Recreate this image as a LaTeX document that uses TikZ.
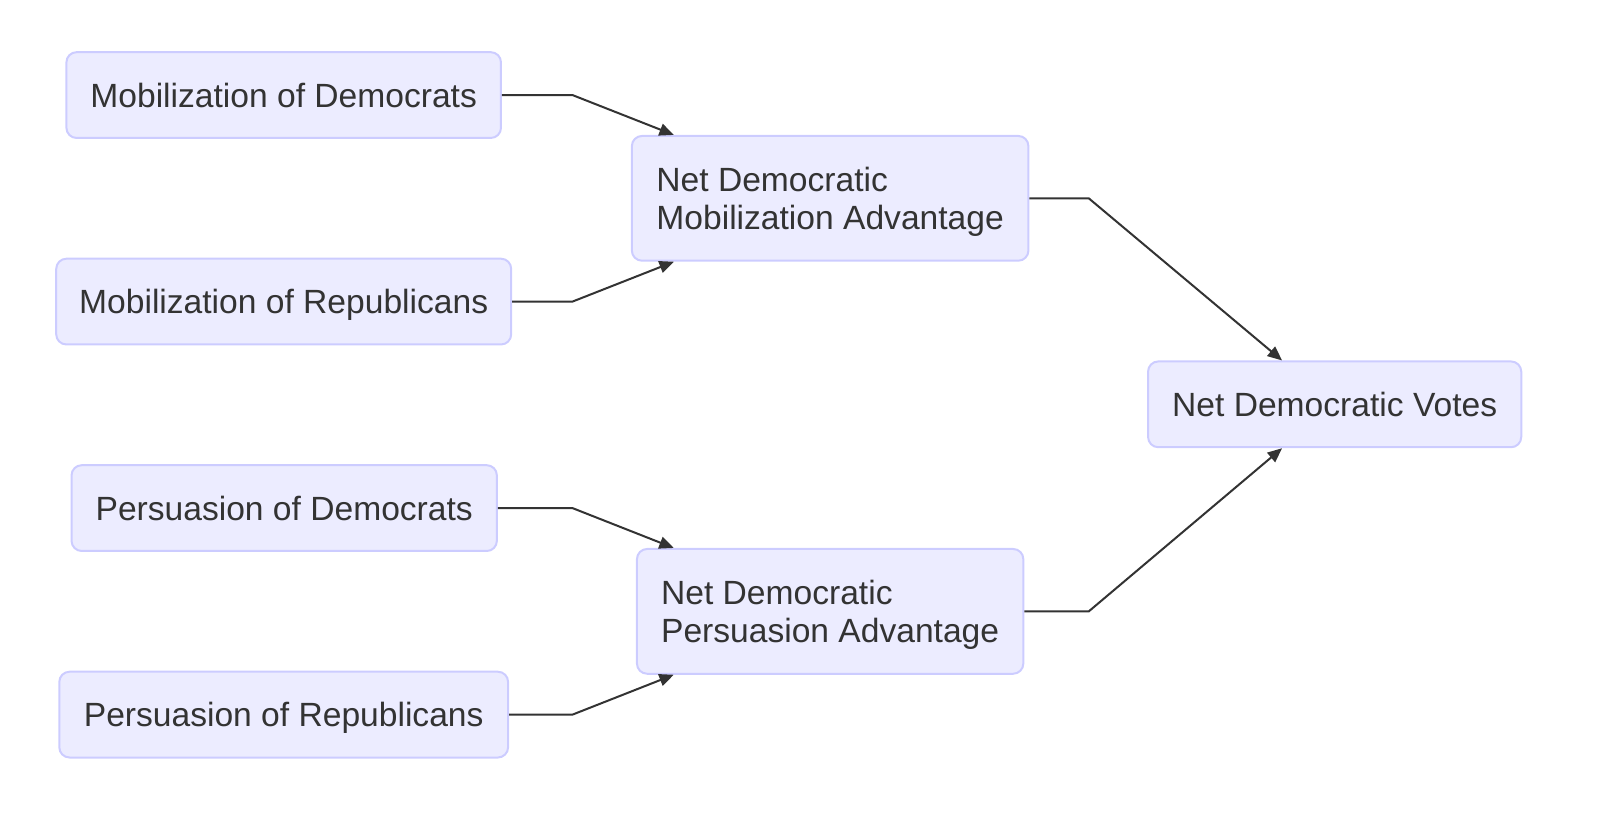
\documentclass[tikz,border=0pt]{standalone}
\usepackage{fontspec}
\setmainfont{Liberation Sans}
\usetikzlibrary{arrows.meta}
\definecolor{boxfill}{HTML}{ECECFF}
\definecolor{boxline}{HTML}{CCCCFF}
\definecolor{ink}{HTML}{333333}

\begin{document}
\begin{tikzpicture}
		[x=0.5112pt, y=-0.5112pt,
		every node/.style={font=\fontsize{16.8}{19}\selectfont, text=ink},
		factor/.style={draw=boxline, fill=boxfill, line width=1pt, rounded corners=5.1pt, minimum height=42.9pt, inner xsep=0pt, text depth=0pt},
		netbox/.style={factor, minimum height=62.4pt, align=left},
		link/.style={draw=ink, line width=1pt, -{Triangle[length=7.2pt,width=6.1pt]}}
		]
		\useasboundingbox (0,0) rectangle (1567,814);
		\begin{scope}
			\node[factor, minimum width=217.3pt] (MobD) at (277.5,93) {Mobilization of Democrats};
			\node[factor, minimum width=227.5pt] (MobR) at (277.5,295) {Mobilization of Republicans};
			\node[factor, minimum width=212.7pt] (PerD) at (278,497) {Persuasion of Democrats};
			\node[factor, minimum width=224.4pt] (PerR) at (277.5,699) {Persuasion of Republicans};
			\node[netbox, minimum width=198.3pt] (NetMob) at (812,194) {Net Democratic\\Mobilization Advantage};
			\node[netbox, minimum width=193.2pt] (NetPer) at (812,598) {Net Democratic\\Persuasion Advantage};
			\node[factor, minimum width=186.6pt] (NetVotes) at (1305.5,395.5) {Net Democratic Votes};
		\end{scope}
		\coordinate (bendL) at (560,0);
		\coordinate (bendR) at (1065,0);
		\draw[link] (MobD.east) -- (MobD.east -| bendL) -- ([xshift=21.5pt]NetMob.north west);
		\draw[link] (MobR.east) -- (MobR.east -| bendL) -- ([xshift=21.5pt]NetMob.south west);
		\draw[link] (PerD.east) -- (PerD.east -| bendL) -- ([xshift=18.9pt]NetPer.north west);
		\draw[link] (PerR.east) -- (PerR.east -| bendL) -- ([xshift=18.9pt]NetPer.south west);
		\draw[link] (NetMob.east) -- (NetMob.east -| bendR) -- ([xshift=67.5pt]NetVotes.north west);
		\draw[link] (NetPer.east) -- (NetPer.east -| bendR) -- ([xshift=67.5pt]NetVotes.south west);
	\end{tikzpicture}
\end{document}
